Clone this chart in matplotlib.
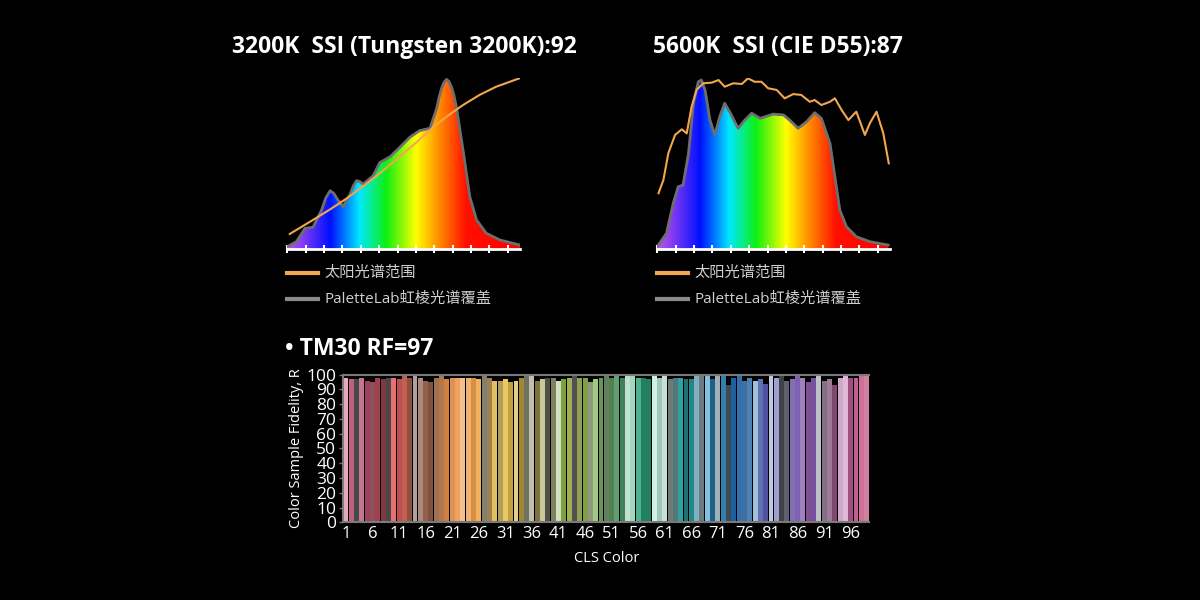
import numpy as np
import matplotlib
matplotlib.use("Agg")
import matplotlib.pyplot as plt
from matplotlib.colors import LinearSegmentedColormap
from matplotlib.patches import PathPatch

plt.rcParams['font.family'] = ['Open Sans', 'Noto Sans CJK SC', 'DejaVu Sans']

# ---------------- data ----------------
title_left = "3200K  SSI (Tungsten 3200K):92"
title_right = "5600K  SSI (CIE D55):87"
legend_sun = "太阳光谱范围"
legend_lamp = "PaletteLab虹棱光谱覆盖"
tm30_title = "• TM30 RF=97"

# 3200K lamp spectrum (relative)
wl_3200 = [380, 395, 409, 422, 436, 443, 450, 456, 462, 471, 482, 488, 493, 498, 504,
           520, 531, 548, 564, 580, 596, 613, 624, 628, 632, 636, 640, 644, 648, 652,
           656, 667, 678, 689, 705, 727, 760]
val_3200 = [1.4, 4.3, 12.1, 12.7, 22.8, 30.0, 34.1, 32.5, 29.0, 24.8, 31.6, 37.0, 40.0, 39.5, 38.0,
            42.7, 50.5, 54.0, 59.5, 65.3, 69.2, 70.6, 82.3, 89.0, 94.0, 97.5, 99.2, 98.0, 94.9, 90.0,
            83.2, 57.9, 30.6, 17.0, 9.2, 5.3, 2.3]
# Tungsten 3200K reference
sun_wl_3200 = [384, 422, 450, 477, 504, 531, 558, 586, 613, 640, 667, 694, 721, 759]
sun_val_3200 = [8.8, 17.0, 23.2, 29.6, 36.8, 44.2, 52.4, 60.8, 69.6, 77.4, 84.2, 90.1, 94.9, 99.8]

# 5600K lamp spectrum (relative)
wl_5600 = [380, 395, 406, 414, 422, 431, 439, 447, 452, 458, 466, 474, 482, 490, 498,
           512, 523, 534, 548, 569, 586, 596, 610, 624, 637, 648, 662, 670, 678, 689,
           705, 727, 757]
val_5600 = [1.4, 9.2, 26.7, 36.4, 37.4, 56.0, 85.2, 97.8, 98.8, 93.0, 75.4, 66.7, 77.4, 85.2, 80.3,
            70.6, 75.4, 79.4, 76.4, 78.9, 78.4, 75.4, 70.6, 74.5, 79.7, 76.4, 61.8, 42.3, 22.8, 13.0,
            7.2, 4.3, 2.3]
# CIE D55 reference
sun_wl_5600 = [382, 390, 398, 409, 420, 428, 436, 444, 455, 469, 480, 490, 504, 518, 528,
               539, 550, 561, 575, 588, 602, 615, 629, 637, 648, 662, 670, 681, 692, 705,
               719, 727, 738, 749, 758]
sun_val_5600 = [32.6, 40.4, 56.0, 66.7, 70.0, 67.6, 83.2, 93.0, 96.9, 97.3, 98.8, 94.9, 96.9, 96.5, 99.8,
                97.8, 97.8, 94.0, 93.0, 88.1, 90.6, 90.1, 86.1, 87.1, 84.2, 86.1, 88.1, 81.3, 75.4, 80.3,
                66.7, 73.5, 80.3, 67.7, 50.1]

# TM-30 colour sample fidelity
ces_index = list(range(1, 100))
ces_rf = [98, 97, 97, 98, 96, 95, 98, 97, 98, 98,
          97, 99, 98, 100, 98, 96, 95, 98, 100, 97,
          98, 98, 98, 98, 98, 97, 100, 98, 96, 96,
          97, 95, 96, 98, 100, 100, 96, 97, 98, 98,
          96, 97, 98, 100, 98, 98, 95, 97, 98, 99,
          98, 99, 98, 99, 99, 98, 98, 97, 100, 98,
          100, 97, 98, 98, 97, 97, 100, 100, 100, 97,
          100, 99, 93, 98, 99, 96, 98, 96, 97, 94,
          99, 98, 99, 96, 97, 99, 98, 95, 98, 99,
          96, 97, 93, 98, 99, 98, 98, 99, 99]
ces_colors = ['#e8a8c0', '#c06080', '#484848', '#c07890', '#a04060', '#905058', '#a04050', '#803840', '#484848', '#e87070',
              '#c05050', '#c06050', '#905040', '#b0a0a0', '#b08878', '#906050', '#805040', '#a07050', '#b07848', '#d08040',
              '#e09050', '#f0a060', '#f0c090', '#f0b070', '#d89040', '#f0b060', '#808070', '#a08050', '#e0c060', '#b0a060',
              '#e8c860', '#c0a040', '#e0d090', '#a08830', '#707060', '#c0c0b0', '#807040', '#c8c898', '#505048', '#808060',
              '#d0e0c0', '#80a040', '#a0b050', '#505050', '#90a050', '#80a048', '#909880', '#a0c880', '#709060', '#608060',
              '#508050', '#60a070', '#408058', '#c0e0d0', '#a0d8c0', '#50b090', '#208060', '#208060', '#d0f0e8', '#a0c8b8',
              '#c8e0d8', '#707878', '#507878', '#30a0a0', '#207070', '#208888', '#80b0c0', '#6a7a80', '#80c0e0', '#206080',
              '#a0b0b8', '#3080b0', '#404850', '#2060a0', '#3070b0', '#4070a0', '#5080b0', '#a0c0e0', '#6070b0', '#5050a0',
              '#c0c8e8', '#a0a0d0', '#404048', '#606070', '#8070b0', '#8060b0', '#a080c0', '#805090', '#7850a0', '#c0c0c8',
              '#807088', '#a07898', '#804870', '#d0a8c8', '#e0b8d8', '#a05080', '#c06090', '#d07098', '#d080a0']
xtick_vals = list(range(1, 100, 5))
ytick_vals = list(range(0, 101, 10))

# ---------------- style ----------------
ORANGE = '#f3a64c'
OUTLINE = '#6e6e6e'
LEG_GRAY = '#8a8a8a'
TXT_GRAY = '#d0d0d0'

rainbow = LinearSegmentedColormap.from_list('rb', [
    (0.0, '#b458e6'), (20 / 380, '#9040f0'), (70 / 380, '#0010ff'),
    (118 / 380, '#00e8ff'), (162 / 380, '#10f010'), (211 / 380, '#ffff00'),
    (244 / 380, '#ff9900'), (292 / 380, '#ff1000'), (1.0, '#ff0000')])

fig = plt.figure(figsize=(12, 6), dpi=100, facecolor='black')


def spectrum_axes(left_px, wl, val, swl, sval):
    ax = fig.add_axes([left_px / 1200, (600 - 249) / 600, 232.7 / 1200, 171 / 600])
    ax.set_facecolor('black')
    poly = ax.fill_between(wl, val, 0, facecolor='none', edgecolor='none')
    path = poly.get_paths()[0]
    patch = PathPatch(path, transform=ax.transData, facecolor='none', edgecolor='none')
    ax.add_patch(patch)
    grad = np.linspace(380, 760, 600).reshape(1, -1)
    im = ax.imshow(grad, extent=[380, 760, 0, 100], aspect='auto', cmap=rainbow,
                   vmin=380, vmax=760, origin='lower', zorder=1, interpolation='bilinear')
    im.set_clip_path(patch)
    ax.plot(wl, val, color=OUTLINE, lw=2, zorder=2, solid_joinstyle='round')
    ax.plot(swl, sval, color=ORANGE, lw=1.5, zorder=3, solid_joinstyle='round')
    ax.set_xlim(380, 760)
    ax.set_ylim(0, 100)
    for s in ['left', 'top', 'right']:
        ax.spines[s].set_visible(False)
    ax.spines['bottom'].set_color('white')
    ax.spines['bottom'].set_linewidth(2)
    ax.set_xticks(list(range(380, 761, 30)))
    ax.set_xticklabels([])
    ax.set_yticks([])
    ax.tick_params(axis='x', colors='white', direction='inout', length=6, width=1.5)
    return ax


spectrum_axes(287.3, wl_3200, val_3200, sun_wl_3200, sun_val_3200)
spectrum_axes(657.3, wl_5600, val_5600, sun_wl_5600, sun_val_5600)

# titles
fig.text(404 / 1200, 1 - 47 / 600, title_left, color='white', fontsize=16.5,
         fontweight='bold', ha='center', va='center')
fig.text(778 / 1200, 1 - 47 / 600, title_right, color='white', fontsize=16.5,
         fontweight='bold', ha='center', va='center')

# legends
for x0 in (287, 657):
    for y, col, lab in ((273, ORANGE, legend_sun), (299, LEG_GRAY, legend_lamp)):
        fig.add_artist(plt.Line2D([x0 / 1200, (x0 + 31) / 1200], [1 - y / 600, 1 - y / 600],
                                  color=col, lw=3, transform=fig.transFigure))
        fig.text((x0 + 37) / 1200, 1 - y / 600, lab, color=TXT_GRAY, fontsize=11,
                 ha='left', va='center')

fig.text(285 / 1200, 1 - 349 / 600, tm30_title, color='white', fontsize=16.5,
         fontweight='bold', ha='left', va='center')

# bar chart
axb = fig.add_axes([343.3 / 1200, (600 - 522.3) / 600, 526 / 1200, 147.6 / 600])
axb.set_facecolor('black')
axb.bar(ces_index, ces_rf, width=0.93, color=ces_colors, linewidth=0)
axb.set_xlim(0.5, 99.5)
axb.set_ylim(0, 100)
for s in ['left', 'top', 'bottom']:
    axb.spines[s].set_color('#7a7a7a')
    axb.spines[s].set_linewidth(1.5)
axb.spines['right'].set_visible(False)
axb.set_xticks(xtick_vals)
axb.set_xticklabels([str(v) for v in xtick_vals])
axb.set_yticks(ytick_vals)
axb.tick_params(axis='x', colors='white', length=0, pad=3, labelsize=12)
axb.tick_params(axis='y', colors='white', labelsize=12.5, length=3, width=1, pad=2)
axb.tick_params(axis='y', color='#7a7a7a')
axb.set_ylabel('Color Sample Fidelity, R', color='white', fontsize=10.5, labelpad=2)
axb.set_xlabel('CLS Color', color='white', fontsize=10.5, labelpad=6)

fig.savefig('out.png', dpi=100, facecolor='black')
